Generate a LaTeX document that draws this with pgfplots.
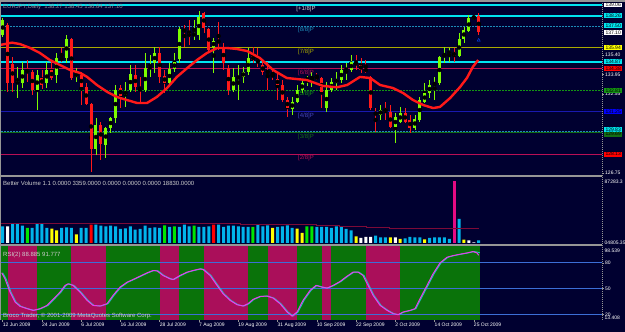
\documentclass[border=0pt]{standalone}
\usepackage{fontspec}
\setmainfont{Liberation Sans}
\usepackage{pgfplots}
\usepackage{pgfplotstable}
\pgfplotsset{compat=1.18}

\definecolor{bg}{RGB}{0,0,48}
\definecolor{bull}{RGB}{124,252,0}
\definecolor{bear}{RGB}{255,25,25}
\definecolor{macol}{RGB}{255,25,25}
\definecolor{cyanl}{RGB}{0,228,240}
\definecolor{teall}{RGB}{30,140,185}
\definecolor{olivel}{RGB}{170,170,0}
\definecolor{crim}{RGB}{185,15,85}
\definecolor{mgreen}{RGB}{20,150,20}
\definecolor{mblue}{RGB}{25,25,175}
\definecolor{dgreen}{RGB}{20,110,20}
\definecolor{volc}{RGB}{0,180,235}
\definecolor{volma}{RGB}{125,10,55}
\definecolor{pinkb}{RGB}{170,15,90}
\definecolor{greenb}{RGB}{10,115,10}
\definecolor{rsil}{RGB}{235,60,235}
\definecolor{sigl}{RGB}{30,195,195}
\definecolor{lvl}{RGB}{60,110,215}
\definecolor{sepg}{RGB}{150,150,150}
\definecolor{tgray}{RGB}{140,140,150}
\definecolor{lgray}{RGB}{205,205,205}
\definecolor{ylw}{RGB}{255,255,0}
\definecolor{lime}{RGB}{0,230,0}

\newcommand{\fsix}{\fontsize{6}{7}\selectfont}
\newcommand{\ffive}{\fontsize{5}{6}\selectfont}

\pgfplotstableread{
i o h l c
0 136.86 138.11 136.72 137.96
1 137.60 137.74 132.69 133.35
2 134.74 135.25 132.69 133.35
3 133.42 134.52 132.25 133.71
4 133.35 134.88 132.98 134.30
5 134.30 135.03 133.42 134.08
6 134.15 134.30 132.47 132.83
7 132.83 134.30 131.37 133.93
8 133.71 134.30 132.91 133.20
9 133.35 134.88 132.98 134.30
10 134.30 134.88 133.56 133.71
11 133.93 135.54 133.35 135.18
12 135.18 135.91 134.88 135.03
13 135.18 136.86 134.81 136.57
14 136.57 136.64 133.56 133.71
15 133.79 134.44 133.42 134.08
16 133.93 134.15 131.73 133.05
17 133.05 133.35 131.73 131.81
18 131.81 131.88 126.82 128.51
19 128.51 130.78 128.07 130.27
20 130.27 130.49 127.71 128.88
21 128.80 130.12 127.85 130.05
22 130.05 130.85 129.68 130.78
23 130.78 133.20 130.42 132.83
24 132.98 133.20 131.51 132.39
25 132.47 133.42 131.59 132.76
26 132.83 134.66 132.69 134.00
27 133.93 134.66 132.69 133.05
28 133.05 133.79 131.95 132.83
29 132.83 135.54 132.69 134.44
30 134.37 135.40 133.79 134.59
31 134.81 135.98 134.08 135.54
32 135.54 135.98 133.35 133.79
33 133.86 134.30 132.61 133.35
34 133.35 134.81 133.20 134.37
35 134.37 135.54 134.15 134.88
36 135.10 137.45 134.81 137.30
37 137.30 137.60 135.98 137.08
38 137.01 137.96 136.13 136.72
39 136.79 137.96 136.50 137.01
40 136.86 138.60 136.50 138.18
41 138.47 138.55 137.01 137.38
42 137.30 137.38 135.54 135.76
43 135.98 136.64 134.08 136.42
44 136.50 137.81 135.76 136.28
45 135.98 136.28 134.30 134.81
46 134.44 134.66 132.47 132.83
47 132.83 134.44 132.69 133.79
48 133.71 134.66 132.10 133.79
49 133.79 134.52 133.35 134.15
50 134.15 135.91 133.93 135.18
51 135.32 135.98 134.81 135.03
52 135.03 135.91 134.52 134.81
53 134.66 134.88 133.93 134.15
54 134.23 134.88 132.83 134.08
55 134.00 134.44 133.56 133.79
56 133.64 134.15 132.10 133.20
57 133.20 133.56 131.95 132.10
58 132.10 132.32 130.85 131.51
59 131.44 132.32 131.00 131.95
60 131.95 133.20 131.88 132.83
61 132.83 133.56 132.61 133.35
62 133.56 133.86 133.13 133.71
63 133.64 134.15 133.05 133.79
64 133.86 134.08 133.56 133.64
65 133.71 133.79 131.51 132.69
66 131.51 133.42 131.22 132.83
67 132.83 133.71 132.69 133.42
68 133.35 134.15 132.83 133.64
69 133.56 134.66 133.35 134.30
70 134.23 134.81 133.56 134.44
71 134.30 135.40 134.15 134.88
72 134.88 135.40 134.30 134.66
73 134.66 135.18 134.08 134.30
74 134.44 135.03 134.08 134.15
75 133.79 133.86 131.37 131.51
76 131.22 131.51 129.76 131.00
77 131.00 131.73 130.63 131.37
78 131.51 131.95 130.63 131.22
79 131.22 131.73 130.05 130.12
80 130.12 131.15 128.95 130.85
81 130.49 131.59 130.42 131.15
82 131.15 131.51 130.42 130.49
83 130.63 131.00 129.68 130.05
84 130.05 131.00 129.90 130.71
85 130.63 132.32 130.49 132.10
86 131.95 133.35 131.88 132.61
87 132.61 133.56 132.25 133.20
88 133.20 133.79 132.10 133.35
89 133.35 135.32 133.20 135.25
90 135.25 135.98 134.81 135.47
91 135.47 135.91 134.88 135.69
92 135.62 135.91 134.88 135.32
93 135.32 137.01 135.25 136.57
94 136.57 137.45 136.28 137.23
95 137.16 138.33 137.08 138.11
96 138.11 138.33 137.96 138.18
97 138.27 138.45 136.84 137.10
}\candles

% c: 0 cyan, 1 white, 2 yellow, 3 green, 4 red, 5 magenta
\pgfplotstableread{
i v c
0 23575 0
1 23575 1
2 27347 0
3 26876 0
4 24518 0
5 21218 3
6 21218 0
7 27347 0
8 26876 0
9 21218 0
10 20275 2
11 17917 2
12 21218 0
13 22161 0
14 21218 0
15 12259 2
16 21218 0
17 21218 0
18 25933 4
19 25933 0
20 24518 0
21 23575 0
22 24518 0
23 23575 0
24 19803 0
25 20746 0
26 23575 0
27 18860 0
28 19803 0
29 24518 0
30 21218 0
31 22161 0
32 21218 0
33 24990 3
34 22632 0
35 23575 3
36 22632 0
37 25933 0
38 23575 0
39 24518 3
40 22632 0
41 22632 0
42 23575 0
43 25933 4
44 25933 0
45 22632 0
46 24518 0
47 24518 0
48 23575 0
49 22632 0
50 22632 0
51 22632 3
52 25933 0
53 23575 0
54 24990 0
55 21218 2
56 22632 0
57 23575 0
58 24990 0
59 21218 0
60 20275 2
61 14145 2
62 23575 3
63 23575 3
64 22632 0
65 22632 0
66 22632 0
67 21218 0
68 23575 0
69 23575 0
70 19803 0
71 17917 0
72 9430 2
73 7073 1
74 8487 1
75 8487 1
76 10373 0
77 8016 0
78 8016 0
79 8016 2
80 8016 1
81 5658 2
82 6601 0
83 8487 0
84 8016 0
85 8016 0
86 5187 2
87 7073 0
88 8016 0
89 8016 0
90 8016 0
91 5658 0
92 87228 5
93 33948 0
94 4715 2
95 3772 1
96 943 1
97 3772 0
}\vol

\tikzset{
  pbox/.style={anchor=west, xshift=2pt, inner xsep=1.3pt, inner ysep=0.7pt, font=\ffive, text=black},
  mlab/.style={anchor=north, yshift=-1pt, inner sep=0pt, font=\fsix},
}
\pgfplotsset{
  panel/.style={scale only axis, width=601pt, xmin=-0.35, xmax=122.13,
    anchor=south west, axis line style={draw=none}, clip mode=individual,
    tick align=outside, major tick length=2pt,
    tick style={draw=sepg, line width=0.5pt},
    ticklabel style={font=\ffive, text=white, inner sep=1pt},
    /pgf/number format/assume math mode=true},
  vbar/.style={ybar, bar width=3pt, bar shift=0pt, draw=none, fill=#1, forget plot},
}

\begin{document}
\begin{tikzpicture}
\fill[bg] (0pt,0pt) rectangle (625pt,332pt);

% ---------------- price panel ----------------
\begin{axis}[panel, at={(1pt,157pt)}, height=173pt, ymin=126.605, ymax=139.28,
  xtick=\empty, ytick={126.75,132.55,133.95,135.40},
  yticklabels={126.75,132.55,133.95,135.40}, ytick pos=right, yticklabel pos=right]
% horizontal levels
\addplot[cyanl, line width=1.2pt, forget plot] coordinates {(-1,139.06) (123,139.06)};
\addplot[cyanl, line width=2pt, forget plot] coordinates {(-1,138.26) (123,138.26)};
\addplot[teall, line width=0.9pt, dash pattern=on 2pt off 1pt, forget plot] coordinates {(-1,137.50) (123,137.50)};
\addplot[olivel, line width=0.9pt, forget plot] coordinates {(-1,135.94) (123,135.94)};
\addplot[cyanl, line width=2pt, forget plot] coordinates {(-1,134.87) (123,134.87)};
\addplot[crim, line width=0.9pt, forget plot] coordinates {(-1,134.38) (123,134.38)};
\addplot[mgreen, line width=0.9pt, dash pattern=on 2pt off 1pt, forget plot] coordinates {(-1,132.81) (123,132.81)};
\addplot[mblue, line width=0.9pt, forget plot] coordinates {(-1,131.25) (123,131.25)};
\addplot[teall, line width=0.9pt, dash pattern=on 2pt off 1pt, forget plot] coordinates {(-1,129.83) (123,129.83)};
\addplot[dgreen, line width=0.9pt, forget plot] coordinates {(-1,129.69) (123,129.69)};
\addplot[crim, line width=0.9pt, forget plot] coordinates {(-1,128.13) (123,128.13)};
% candles: wicks
\addplot[only marks, mark=none, forget plot,
  restrict expr to domain={\thisrow{c}-\thisrow{o}}{0:100},
  error bars/.cd, y dir=both, y explicit, error mark=none,
  error bar style={draw=bull, line width=0.8pt, solid}]
  table[x=i, y expr={(\thisrow{h}+\thisrow{l})/2}, y error expr={(\thisrow{h}-\thisrow{l})/2}] {\candles};
\addplot[only marks, mark=none, forget plot,
  restrict expr to domain={\thisrow{c}-\thisrow{o}}{-100:-0.0001},
  error bars/.cd, y dir=both, y explicit, error mark=none,
  error bar style={draw=bear, line width=0.8pt, solid}]
  table[x=i, y expr={(\thisrow{h}+\thisrow{l})/2}, y error expr={(\thisrow{h}-\thisrow{l})/2}] {\candles};
% candles: bodies
\addplot[only marks, mark=none, forget plot,
  restrict expr to domain={\thisrow{c}-\thisrow{o}}{0:100},
  error bars/.cd, y dir=both, y explicit, error mark=none,
  error bar style={draw=bull, line width=3pt, solid}]
  table[x=i, y expr={(\thisrow{o}+\thisrow{c})/2}, y error expr={max(abs(\thisrow{c}-\thisrow{o})/2,0.04)}] {\candles};
\addplot[only marks, mark=none, forget plot,
  restrict expr to domain={\thisrow{c}-\thisrow{o}}{-100:-0.0001},
  error bars/.cd, y dir=both, y explicit, error mark=none,
  error bar style={draw=bear, line width=3pt, solid}]
  table[x=i, y expr={(\thisrow{o}+\thisrow{c})/2}, y error expr={max(abs(\thisrow{c}-\thisrow{o})/2,0.04)}] {\candles};
% moving average
\addplot[macol, line width=2.4pt, line join=round, forget plot] coordinates {
(-0.55,136.13) (1.9,136.30) (3.5,136.20) (5.6,135.91) (7.6,135.54) (9.6,135.03)
(11.7,134.66) (13.7,134.30) (15.8,134.08) (17.2,133.79) (19.2,133.20) (21.3,132.69)
(23.3,132.32) (25.3,132.10) (27.4,131.88) (29.4,131.88) (31.4,132.32) (33.5,132.98)
(35.5,133.79) (37.6,134.44) (39.6,135.03) (41.6,135.54) (43.7,135.91) (45.7,135.91)
(47.7,135.84) (49.8,135.69) (52.4,135.18) (55.1,134.30) (57.9,133.71) (62.0,133.56)
(65.3,133.13) (68.1,133.03) (70.2,133.20) (72.8,133.79) (74.9,133.71) (76.9,133.20)
(79.5,132.98) (81.6,132.61) (83.6,132.10) (85.7,131.73) (87.7,131.51) (89.1,131.59)
(91.2,132.25) (93.2,133.05) (94.6,133.71) (95.8,134.52) (96.9,135.03)};
% fractal arrow
\addplot[only marks, mark=triangle, mark size=1.8pt, color=blue!70!cyan, forget plot] coordinates {(97,136.48)};
% Murrey labels
\node[mlab, text=lgray] at (axis cs:61.8,139.06) {[+1/8]P};
\node[mlab, text=teall] at (axis cs:61.8,137.50) {[8/8]P};
\node[mlab, text=olivel] at (axis cs:61.8,135.94) {[7/8]P};
\node[mlab, text=crim] at (axis cs:61.8,134.38) {[6/8]P};
\node[mlab, text=mgreen] at (axis cs:61.8,132.81) {[5/8]P};
\node[mlab, text=mblue!80!white] at (axis cs:61.8,131.25) {[4/8]P};
\node[mlab, text=dgreen] at (axis cs:61.8,129.69) {[3/8]P};
\node[mlab, text=crim] at (axis cs:61.8,128.13) {[2/8]P};
% title
\node[anchor=north west, font=\fsix, text=tgray, inner sep=0pt, xshift=2pt, yshift=-2pt] at (rel axis cs:0,1) {EURJPY,Daily\ \ 138.27 138.45 136.84 137.10};
% right price boxes
\node[pbox, fill=white] at (axis cs:122.13,139.06) {139.06};
\node[pbox, fill=cyanl] at (axis cs:122.13,138.26) {138.26};
\node[pbox, fill=cyanl] at (axis cs:122.13,137.55) {137.50};
\node[pbox, fill=white] at (axis cs:122.13,137.06) {137.10};
\node[pbox, fill=ylw] at (axis cs:122.13,135.94) {135.94};
\node[pbox, fill=cyanl] at (axis cs:122.13,134.90) {134.87};
\node[pbox, fill=red] at (axis cs:122.13,134.38) {134.38};
\node[pbox, fill=mgreen] at (axis cs:122.13,132.81) {132.81};
\node[pbox, fill=blue] at (axis cs:122.13,131.25) {131.25};
\node[pbox, fill=cyanl] at (axis cs:122.13,129.95) {129.83};
\node[pbox, fill=dgreen] at (axis cs:122.13,129.60) {129.69};
\node[pbox, fill=red] at (axis cs:122.13,128.13) {128.13};
\end{axis}

% ---------------- volume panel ----------------
\begin{axis}[panel, at={(1pt,89pt)}, height=65pt, ymin=0, ymax=91949, xtick=\empty, ytick=\empty]
\addplot[vbar=volc, restrict expr to domain={\thisrow{c}}{-0.5:0.5}] table[x=i,y=v] {\vol};
\addplot[vbar=white, restrict expr to domain={\thisrow{c}}{0.5:1.5}] table[x=i,y=v] {\vol};
\addplot[vbar=ylw, restrict expr to domain={\thisrow{c}}{1.5:2.5}] table[x=i,y=v] {\vol};
\addplot[vbar=lime, restrict expr to domain={\thisrow{c}}{2.5:3.5}] table[x=i,y=v] {\vol};
\addplot[vbar=red, restrict expr to domain={\thisrow{c}}{3.5:4.5}] table[x=i,y=v] {\vol};
\addplot[vbar=magenta!85!purple, restrict expr to domain={\thisrow{c}}{4.5:5.5}] table[x=i,y=v] {\vol};
\addplot[const plot, volma, line width=0.9pt, forget plot] coordinates {
(-0.35,27868) (8.6,27443) (48.4,26877) (64,25038) (68.7,23624) (74.2,22209) (78.9,21219) (87.1,20370) (97,20370)};
\node[anchor=north west, font=\fsix, text=lgray, inner sep=0pt, xshift=2pt, yshift=-2.5pt] at (rel axis cs:0,1) {Better Volume 1.1 0.0000 3359.0000 0.0000 0.0000 0.0000 18830.0000};
\node[anchor=west, xshift=2pt, font=\ffive, text=white, inner sep=0.5pt] at (axis cs:122.13,87283) {87283.3};
\node[anchor=west, xshift=2pt, font=\ffive, text=white, inner sep=0.5pt] at (axis cs:122.13,600) {04805.35};
\end{axis}

% ---------------- RSI panel ----------------
\begin{axis}[panel, at={(1pt,12pt)}, height=73pt, ymin=13.408, ymax=98.539,
  xtick={0,8,...,96},
  xticklabels={12 Jun 2009,24 Jun 2009,6 Jul 2009,16 Jul 2009,28 Jul 2009,7 Aug 2009,19 Aug 2009,31 Aug 2009,10 Sep 2009,22 Sep 2009,2 Oct 2009,14 Oct 2009,25 Oct 2009},
  xtick pos=bottom, xticklabel style={anchor=north west, inner sep=0.5pt, xshift=-0.5pt},
  ytick={20,50,80}, ytick pos=right, yticklabel pos=right]
\addplot[fill=greenb, draw=none, forget plot] coordinates {(-1,100) (97.3,100)} \closedcycle;
\addplot[fill=pinkb, draw=none, forget plot] coordinates {(1,100) (7,100)} \closedcycle;
\addplot[fill=pinkb, draw=none, forget plot] coordinates {(14,100) (21,100)} \closedcycle;
\addplot[fill=pinkb, draw=none, forget plot] coordinates {(32,100) (36,100)} \closedcycle;
\addplot[fill=pinkb, draw=none, forget plot] coordinates {(41,100) (50,100)} \closedcycle;
\addplot[fill=pinkb, draw=none, forget plot] coordinates {(54,100) (60,100)} \closedcycle;
\addplot[fill=pinkb, draw=none, forget plot] coordinates {(65,100) (67,100)} \closedcycle;
\addplot[fill=pinkb, draw=none, forget plot] coordinates {(74,100) (81,100)} \closedcycle;
\addplot[lvl, line width=1.2pt, forget plot] coordinates {(-1,80) (123,80)};
\addplot[lvl, line width=1.2pt, forget plot] coordinates {(-1,50) (123,50)};
\addplot[lvl, line width=1.2pt, forget plot] coordinates {(-1,20) (123,20)};
\addplot[sigl, line width=0.9pt, xshift=1pt, forget plot] coordinates {
(-0.2,68.4) (0.47,61.4) (1.49,45.9) (2.51,34.3) (3.53,29.3) (4.95,26.6) (6.17,24.6) (7.60,26.6)
(9.03,30.4) (10.25,37.4) (11.68,45.9) (12.70,53.7) (13.31,55.6) (14.33,53.7) (15.75,45.9) (17.18,36.3)
(18.40,30.4) (19.83,29.7) (21.26,32.4) (22.48,42.1) (23.90,51.7) (25.33,57.5) (26.55,60.6) (27.98,64.5)
(29.41,68.4) (30.63,71.1) (31.44,70.7) (32.67,65.3) (34.09,61.4) (34.71,60.6) (36.13,65.3) (37.56,69.2)
(38.78,71.1) (40.21,73.0) (40.82,72.3) (42.25,65.3) (43.67,53.7) (44.90,44.0) (46.32,36.3) (47.75,31.2)
(48.97,29.7) (49.99,32.4) (51.01,37.4) (52.44,40.9) (53.86,41.3) (55.08,39.0) (56.51,32.4) (57.94,22.7)
(58.96,18.0) (59.98,22.7) (61.20,36.3) (62.63,47.9) (63.85,53.7) (65.07,51.7) (66.09,50.6) (67.31,53.7)
(68.74,58.3) (70.17,64.5) (71.39,69.2) (72.41,69.2) (73.43,65.3) (74.45,53.7) (75.47,42.1) (76.90,30.4)
(78.32,24.6) (79.54,20.8) (80.56,19.6) (81.58,22.7) (83.00,24.6) (84.02,26.6) (85.04,38.2) (86.47,53.7)
(87.69,67.2) (89.12,80.0) (90.55,86.6) (91.77,88.5) (93.19,90.1) (94.62,91.6) (95.84,93.2) (96.66,92.4) (97,91.8)};
\addplot[rsil, line width=1pt, forget plot] coordinates {
(-0.2,68.4) (0.47,61.4) (1.49,45.9) (2.51,34.3) (3.53,29.3) (4.95,26.6) (6.17,24.6) (7.60,26.6)
(9.03,30.4) (10.25,37.4) (11.68,45.9) (12.70,53.7) (13.31,55.6) (14.33,53.7) (15.75,45.9) (17.18,36.3)
(18.40,30.4) (19.83,29.7) (21.26,32.4) (22.48,42.1) (23.90,51.7) (25.33,57.5) (26.55,60.6) (27.98,64.5)
(29.41,68.4) (30.63,71.1) (31.44,70.7) (32.67,65.3) (34.09,61.4) (34.71,60.6) (36.13,65.3) (37.56,69.2)
(38.78,71.1) (40.21,73.0) (40.82,72.3) (42.25,65.3) (43.67,53.7) (44.90,44.0) (46.32,36.3) (47.75,31.2)
(48.97,29.7) (49.99,32.4) (51.01,37.4) (52.44,40.9) (53.86,41.3) (55.08,39.0) (56.51,32.4) (57.94,22.7)
(58.96,18.0) (59.98,22.7) (61.20,36.3) (62.63,47.9) (63.85,53.7) (65.07,51.7) (66.09,50.6) (67.31,53.7)
(68.74,58.3) (70.17,64.5) (71.39,69.2) (72.41,69.2) (73.43,65.3) (74.45,53.7) (75.47,42.1) (76.90,30.4)
(78.32,24.6) (79.54,20.8) (80.56,19.6) (81.58,22.7) (83.00,24.6) (84.02,26.6) (85.04,38.2) (86.47,53.7)
(87.69,67.2) (89.12,80.0) (90.55,86.6) (91.77,88.5) (93.19,90.1) (94.62,91.6) (95.84,93.2) (96.66,91.6) (97,88.9)};
\node[anchor=north west, font=\fsix, text=lgray, inner sep=0pt, xshift=2pt, yshift=-4.5pt] at (rel axis cs:0,1) {RSI(2) 88.885 91.777};
\node[anchor=south west, font=\fsix, text=lgray, inner sep=0pt, xshift=2pt, yshift=0.8pt] at (rel axis cs:0,0) {Broco Trader, © 2001-2009 MetaQuotes Software Corp.};
\node[anchor=north west, xshift=2pt, yshift=-1.5pt, font=\ffive, text=white, inner sep=0.5pt] at (axis cs:122.13,98.539) {98.539};
\node[anchor=south west, xshift=2pt, font=\ffive, text=white, inner sep=0.5pt] at (axis cs:122.13,13.408) {13.408};
\end{axis}

% panel separators and frame
\fill[sepg] (0pt,155pt) rectangle (602pt,157.2pt);
\fill[sepg] (0pt,86pt) rectangle (602pt,88.2pt);
\fill[sepg] (0pt,330.4pt) rectangle (625pt,331.6pt);
\draw[sepg, line width=0.6pt] (0.4pt,12pt) -- (0.4pt,331pt);
\draw[sepg, line width=0.7pt, dash pattern=on 1pt off 1pt] (602pt,12pt) -- (602pt,331pt);
\pgfresetboundingbox
\path[use as bounding box] (0pt,0pt) rectangle (625pt,332pt);
\end{tikzpicture}
\end{document}
